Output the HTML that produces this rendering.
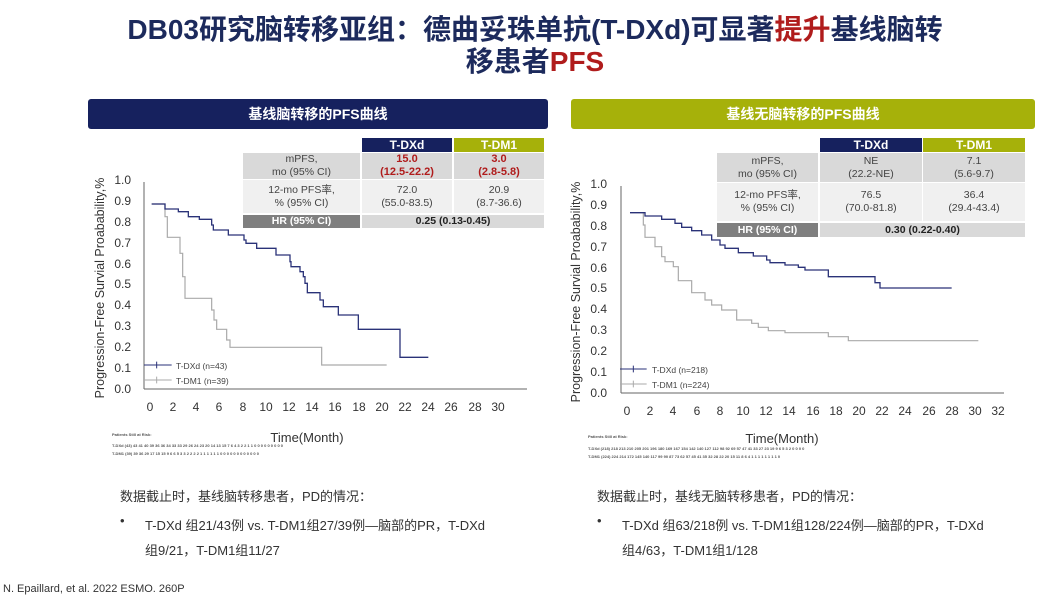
<!DOCTYPE html>
<html><head><meta charset="utf-8"><style>
body{margin:0;width:1057px;height:605px;background:#fff;overflow:hidden;font-family:"Liberation Sans","Noto Sans CJK SC",sans-serif;position:relative}
.abs{position:absolute}
.title{left:0;width:1090px;text-align:center;font-weight:bold;font-size:28px;color:#1c2a5c;line-height:32px}
.bar{height:30px;border-radius:3px;color:#fff;font-weight:bold;font-size:14px;text-align:center;line-height:30px}
.cell{position:absolute;text-align:center;font-size:10.5px;color:#444;line-height:13px;display:flex;align-items:center;justify-content:center;flex-direction:column}
.txt{font-size:13px;color:#333}
</style></head><body>
<div class="abs title" style="top:14px;left:-10px">DB03研究脑转移亚组：德曲妥珠单抗(T-DXd)可显著<span style="color:#b01c1c">提升</span>基线脑转</div>
<div class="abs title" style="top:46px;left:-10px">移患者<span style="color:#b01c1c">PFS</span></div>
<div class="abs bar" style="left:88px;top:99px;width:460px;background:#16215e">基线脑转移的PFS曲线</div>
<div class="abs bar" style="left:571px;top:99px;width:464px;background:#a6b10a">基线无脑转移的PFS曲线</div>

<!-- left table -->
<div class="cell" style="left:362px;top:138px;width:90px;height:14px;background:#16215e;color:#fff;font-weight:bold;font-size:12px">T-DXd</div>
<div class="cell" style="left:454px;top:138px;width:90px;height:14px;background:#a6b10a;color:#fff;font-weight:bold;font-size:12px">T-DM1</div>
<div class="cell" style="left:243px;top:153px;width:117px;height:26px;background:#d9d9d9">mPFS,<br>mo (95% CI)</div>
<div class="cell" style="left:362px;top:153px;width:90px;height:26px;background:#d9d9d9;color:#b01c1c;font-weight:bold;font-size:11px">15.0<br>(12.5-22.2)</div>
<div class="cell" style="left:454px;top:153px;width:90px;height:26px;background:#d9d9d9;color:#b01c1c;font-weight:bold;font-size:11px">3.0<br>(2.8-5.8)</div>
<div class="cell" style="left:243px;top:180px;width:117px;height:33px;background:#f0f0f0">12-mo PFS率,<br>% (95% CI)</div>
<div class="cell" style="left:362px;top:180px;width:90px;height:33px;background:#f0f0f0">72.0<br>(55.0-83.5)</div>
<div class="cell" style="left:454px;top:180px;width:90px;height:33px;background:#f0f0f0">20.9<br>(8.7-36.6)</div>
<div class="cell" style="left:243px;top:215px;width:117px;height:13px;background:#7f7f7f;color:#fff;font-weight:bold">HR (95% CI)</div>
<div class="cell" style="left:362px;top:215px;width:182px;height:13px;background:#d9d9d9;color:#222;font-weight:bold">0.25 (0.13-0.45)</div>

<!-- right table -->
<div class="cell" style="left:820px;top:138px;width:102px;height:14px;background:#16215e;color:#fff;font-weight:bold;font-size:12px">T-DXd</div>
<div class="cell" style="left:923px;top:138px;width:102px;height:14px;background:#a6b10a;color:#fff;font-weight:bold;font-size:12px">T-DM1</div>
<div class="cell" style="left:717px;top:153px;width:101px;height:29px;background:#d9d9d9">mPFS,<br>mo (95% CI)</div>
<div class="cell" style="left:820px;top:153px;width:102px;height:29px;background:#d9d9d9">NE<br>(22.2-NE)</div>
<div class="cell" style="left:923px;top:153px;width:102px;height:29px;background:#d9d9d9">7.1<br>(5.6-9.7)</div>
<div class="cell" style="left:717px;top:183px;width:101px;height:38px;background:#f0f0f0">12-mo PFS率,<br>% (95% CI)</div>
<div class="cell" style="left:820px;top:183px;width:102px;height:38px;background:#f0f0f0">76.5<br>(70.0-81.8)</div>
<div class="cell" style="left:923px;top:183px;width:102px;height:38px;background:#f0f0f0">36.4<br>(29.4-43.4)</div>
<div class="cell" style="left:717px;top:223px;width:101px;height:14px;background:#7f7f7f;color:#fff;font-weight:bold">HR (95% CI)</div>
<div class="cell" style="left:820px;top:223px;width:205px;height:14px;background:#d9d9d9;color:#222;font-weight:bold">0.30 (0.22-0.40)</div>

<svg class="abs" style="left:0;top:0" width="1057" height="605" font-family="Liberation Sans, sans-serif">
<!-- left chart -->
<g fill="#333" font-size="12">
<line x1="144" y1="182" x2="144" y2="389" stroke="#666"/>
<line x1="144" y1="389" x2="527" y2="389" stroke="#666"/>
<g text-anchor="end">
<text x="131" y="393">0.0</text><text x="131" y="372">0.1</text><text x="131" y="351">0.2</text><text x="131" y="330">0.3</text><text x="131" y="309">0.4</text><text x="131" y="288">0.5</text><text x="131" y="268">0.6</text><text x="131" y="247">0.7</text><text x="131" y="226">0.8</text><text x="131" y="205">0.9</text><text x="131" y="184">1.0</text>
</g>
<g text-anchor="middle">
<text x="150" y="411">0</text><text x="173" y="411">2</text><text x="196" y="411">4</text><text x="219" y="411">6</text><text x="243" y="411">8</text><text x="266" y="411">10</text><text x="289" y="411">12</text><text x="312" y="411">14</text><text x="335" y="411">16</text><text x="359" y="411">18</text><text x="382" y="411">20</text><text x="405" y="411">22</text><text x="428" y="411">24</text><text x="451" y="411">26</text><text x="475" y="411">28</text><text x="498" y="411">30</text>
<text x="307" y="442" font-size="13">Time(Month)</text>
</g>
<text transform="translate(104,288) rotate(-90)" text-anchor="middle" font-size="12.5">Progression-Free Survial Proabability,%</text>
</g>
<g transform="translate(90,130) scale(0.33333)" fill="none">
<path vector-effect="non-scaling-stroke" stroke="#aaa" stroke-width="1.2" d="M185,222 H225 V260 H232 V322 H270 V370 H278 V440 H285 V505 H365 V540 H372 V570 H380 V598 H410 V630 H420 V652 H695 V705 H890"/>
<path vector-effect="non-scaling-stroke" stroke="#2a3278" stroke-width="1.3" d="M185,222 H225 V237 H265 V245 H295 V260 H328 V268 H365 V285 H370 V300 H415 V315 H462 V330 H468 V340 H500 V355 H558 V375 H600 V395 H603 V410 H630 V425 H640 V440 H645 V460 H652 V488 H690 V510 H700 V530 H745 V555 H805 V598 H930 V682 H1015"/>
<path vector-effect="non-scaling-stroke" stroke="#2a3278" d="M162,705 H245 M200,695 V715"/>
<path vector-effect="non-scaling-stroke" stroke="#aaa" d="M162,750 H245 M200,740 V760"/>
</g>
<g font-size="8.5" fill="#444"><text x="176" y="369">T-DXd (n=43)</text><text x="176" y="384">T-DM1 (n=39)</text></g>
<g font-size="4" fill="#555" font-weight="bold">
<text x="112" y="436">Patients Still at Risk:</text>
<text x="112" y="447">T-DXd (43)  43  41  40  39  36  36  34  33  33  29  26  24  23  20  14  13  15  7  6  4  3  2  2  1  1  0  0  0  0  0  0  0  0  0</text>
<text x="112" y="455">T-DM1 (39)  39  36  29  17  15  15  9  6  6  5  3  3  2  2  2  2  1  1  1  1  1  1  0  0  0  0  0  0  0  0  0  0  0  0</text>
</g>

<!-- right chart -->
<g fill="#333" font-size="12">
<line x1="621" y1="186" x2="621" y2="393" stroke="#666"/>
<line x1="621" y1="393" x2="1004" y2="393" stroke="#666"/>
<g text-anchor="end">
<text x="607" y="397">0.0</text><text x="607" y="376">0.1</text><text x="607" y="355">0.2</text><text x="607" y="334">0.3</text><text x="607" y="313">0.4</text><text x="607" y="292">0.5</text><text x="607" y="272">0.6</text><text x="607" y="251">0.7</text><text x="607" y="230">0.8</text><text x="607" y="209">0.9</text><text x="607" y="188">1.0</text>
</g>
<g text-anchor="middle">
<text x="627" y="415">0</text><text x="650" y="415">2</text><text x="673" y="415">4</text><text x="697" y="415">6</text><text x="720" y="415">8</text><text x="743" y="415">10</text><text x="766" y="415">12</text><text x="789" y="415">14</text><text x="813" y="415">16</text><text x="836" y="415">18</text><text x="859" y="415">20</text><text x="882" y="415">22</text><text x="905" y="415">24</text><text x="929" y="415">26</text><text x="952" y="415">28</text><text x="975" y="415">30</text><text x="998" y="415">32</text>
<text x="782" y="443" font-size="13">Time(Month)</text>
</g>
<text transform="translate(580,292) rotate(-90)" text-anchor="middle" font-size="12.5">Progression-Free Survial Proabability,%</text>
</g>
<g transform="translate(565,130) scale(0.33333)" fill="none">
<path vector-effect="non-scaling-stroke" stroke="#aaa" stroke-width="1.2" d="M195,248 H235 V285 H240 V322 H270 V350 H290 V380 H300 V395 H325 V410 H340 V452 H380 V488 H420 V510 H440 V525 H470 V540 H515 V570 H560 V580 H580 V592 H610 V602 H660 V608 H790 V620 H850 V632 H1240"/>
<path vector-effect="non-scaling-stroke" stroke="#2a3278" stroke-width="1.3" d="M195,248 H240 V258 H290 V268 H330 V280 H350 V292 H380 V302 H410 V315 H440 V330 H465 V345 H480 V355 H520 V368 H565 V378 H605 V390 H615 V398 H660 V405 H700 V412 H720 V420 H790 V440 H930 V458 H945 V474 H1160"/>
<path vector-effect="non-scaling-stroke" stroke="#2a3278" d="M165,717 H245 M205,707 V727"/>
<path vector-effect="non-scaling-stroke" stroke="#aaa" d="M165,762 H245 M205,752 V772"/>
</g>
<g font-size="8.5" fill="#444"><text x="652" y="373">T-DXd (n=218)</text><text x="652" y="388">T-DM1 (n=224)</text></g>
<g font-size="4" fill="#555" font-weight="bold">
<text x="588" y="438">Patients Still at Risk:</text>
<text x="588" y="450">T-DXd (218)  218 213 210 205 201 196 180 169 167 154 142 140 127 112 98 92 69 57 47 41 33 27 23 19 9 6 5 3 2 0 0 0 0</text>
<text x="588" y="458">T-DM1 (224)  224 214 172 145 140 117 99 90 87 73 62 57 45 41 35 32 28 22 20 15 11 8 6 4 1 1 1 1 1 1 1 1 0</text>
</g>
</svg>

<div class="abs txt" style="left:120px;top:486px">数据截止时，基线脑转移患者，PD的情况：</div>
<div class="abs txt" style="left:120px;top:513px">•</div>
<div class="abs txt" style="left:145px;top:513px;width:400px;line-height:25px">T-DXd 组21/43例 vs. T-DM1组27/39例—脑部的PR，T-DXd<br>组9/21，T-DM1组11/27</div>
<div class="abs txt" style="left:597px;top:486px">数据截止时，基线无脑转移患者，PD的情况：</div>
<div class="abs txt" style="left:597px;top:513px">•</div>
<div class="abs txt" style="left:622px;top:513px;width:420px;line-height:25px">T-DXd 组63/218例 vs. T-DM1组128/224例—脑部的PR，T-DXd<br>组4/63，T-DM1组1/128</div>
<div class="abs" style="left:3px;top:583px;font-size:11px;color:#333">N. Epaillard, et al. 2022 ESMO. 260P</div>
</body></html>
